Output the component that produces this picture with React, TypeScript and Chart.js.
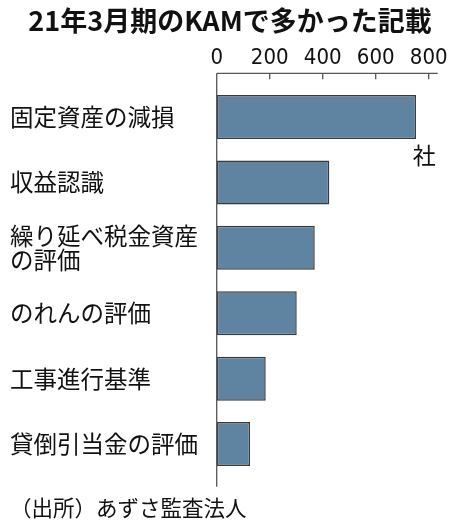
import { useEffect, useRef } from "react";
import { Chart, registerables } from "chart.js";

Chart.register(...registerables);

const TITLE = "21年3月期のKAMで多かった記載";
const SOURCE = "（出所）あずさ監査法人";
const UNIT = "社";

const categories: (string | string[])[] = [
	"固定資産の減損",
	"収益認識",
	["繰り延べ税金資産", "の評価"],
	"のれんの評価",
	"工事進行基準",
	"貸倒引当金の評価",
];
const counts = [752, 425, 370, 302, 185, 126];
const tickValues = [0, 200, 400, 600, 800];

const JP = "'Noto Sans CJK JP', 'Noto Sans', sans-serif";
const NUM = "'Liberation Sans Narrow', 'DejaVu Sans Condensed', sans-serif";

// axis lines sit a little outside the plot area, with ticks pointing inward
const axisPlugin = {
	id: "axisLines",
	afterDatasetsDraw(chart: Chart) {
		const { ctx, chartArea } = chart;
		const x = chart.scales.x;
		const top = chartArea.top - 11;
		const left = x.getPixelForValue(0);
		ctx.save();
		ctx.strokeStyle = "#555";
		ctx.lineWidth = 1.3;
		ctx.beginPath();
		ctx.moveTo(left, top);
		ctx.lineTo(chartArea.right + 9, top);
		ctx.moveTo(left, top);
		ctx.lineTo(left, chartArea.bottom + 10);
		for (const v of tickValues) {
			if (v === 0) continue;
			const px = x.getPixelForValue(v);
			ctx.moveTo(px, top);
			ctx.lineTo(px, top + 6);
		}
		ctx.stroke();
		ctx.fillStyle = "#111";
		ctx.font = `23px ${JP}`;
		ctx.textAlign = "right";
		ctx.textBaseline = "middle";
		const bar = chart.getDatasetMeta(0).data[0] as unknown as { y: number };
		ctx.fillText(UNIT, chartArea.right + 7, bar.y + 38);
		ctx.restore();
	},
};

export default function App() {
	const canvasRef = useRef<HTMLCanvasElement | null>(null);

	useEffect(() => {
		if (!canvasRef.current) return;
		const chart = new Chart(canvasRef.current, {
			type: "bar",
			data: {
				labels: categories,
				datasets: [
					{
						data: counts,
						backgroundColor: "#5f84a1",
						borderColor: "#3a3a3a",
						borderWidth: 1.5,
						borderSkipped: false,
						categoryPercentage: 1,
						barPercentage: 0.673,
					},
				],
			},
			options: {
				indexAxis: "y",
				animation: false,
				responsive: true,
				maintainAspectRatio: false,
				layout: { padding: { top: 0, left: 10, right: 0, bottom: 0 } },
				plugins: {
					legend: { display: false },
					tooltip: { enabled: false },
					title: {
						display: true,
						text: TITLE,
						color: "#111",
						align: "center",
						font: { family: JP, size: 27, weight: "bold", lineHeight: 1.2 },
						padding: { top: 4.3, bottom: 8.2 },
					},
					subtitle: {
						display: true,
						text: SOURCE,
						position: "bottom",
						align: "start",
						color: "#111",
						font: { family: JP, size: 21.5, lineHeight: 1.2 },
						padding: { top: 18.4, bottom: 5 },
					},
				},
				scales: {
					x: {
						position: "top",
						min: 0,
						max: 800,
						afterBuildTicks: (scale) => {
							scale.ticks = tickValues.map((value) => ({ value }));
						},
						afterFit: (scale) => {
							scale.height = 39.4;
							scale.paddingLeft = 0;
							scale.paddingRight = 21.3;
						},
						grid: { display: false, drawTicks: false },
						border: { display: false },
						ticks: {
							color: "#111",
							padding: 13,
							font: { family: NUM, size: 22, lineHeight: 1.2 },
						},
					},
					y: {
						grid: { display: false, drawTicks: false },
						border: { display: false },
						afterFit: (scale) => {
							scale.width = 206.7;
							scale.paddingTop = 0;
							scale.paddingBottom = 0;
						},
						ticks: {
							crossAlign: "far",
							color: "#111",
							font: { family: JP, size: 23.5, lineHeight: 1.03 },
						},
					},
				},
			},
			plugins: [axisPlugin],
		});
		return () => chart.destroy();
	}, []);

	return (
		<div style={{ position: "fixed", left: 0, top: 0, width: 450, height: 526, background: "#fff" }}>
			<canvas ref={canvasRef} />
		</div>
	);
}
